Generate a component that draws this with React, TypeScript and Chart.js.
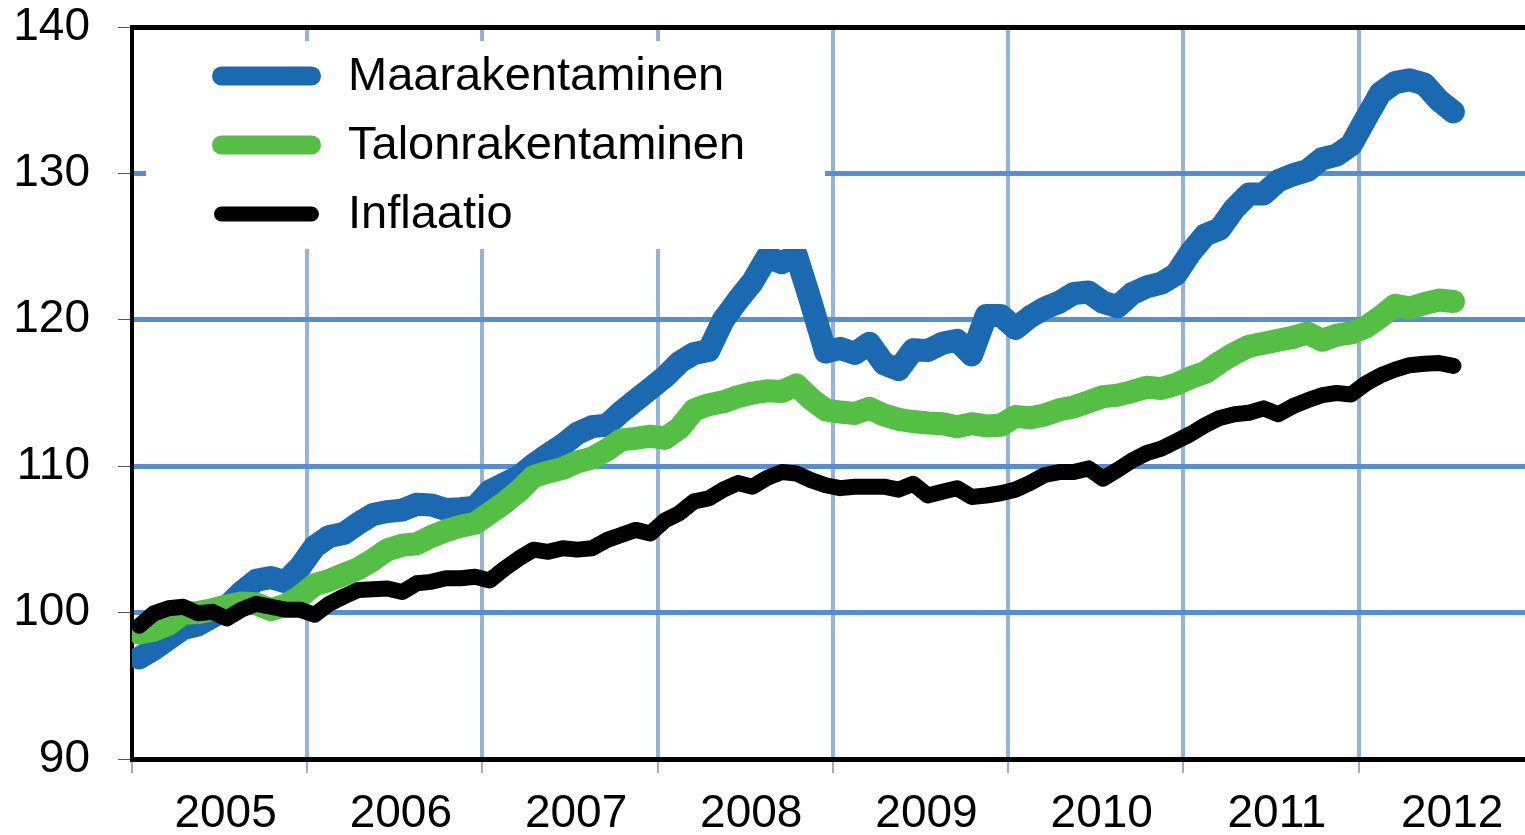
import React, { useEffect, useRef } from 'react';
import { Chart, registerables } from 'chart.js';

Chart.register(...registerables);

// ---- Data (monthly index, Jan 2005 .. Jul 2012) ----
const years = ['2005', '2006', '2007', '2008', '2009', '2010', '2011', '2012'];
const seriesNames = ['Maarakentaminen', 'Talonrakentaminen', 'Inflaatio'];
const yTicks = [90, 100, 110, 120, 130, 140];

const maarakentaminen = [
  96.9, 97.5, 98.2, 98.9, 99.15, 99.7, 100.4, 101.4, 102.2, 102.4, 102.1, 103.1,
  104.5, 105.2, 105.4, 106.1, 106.7, 106.9, 107.0, 107.4, 107.35, 107.05, 107.1, 107.2,
  108.3, 108.8, 109.3, 110.1, 110.8, 111.45, 112.25, 112.7, 112.8, 113.7, 114.5, 115.3,
  116.1, 117.1, 117.7, 117.9, 120.0, 121.35, 122.6, 124.3, 123.9, 124.4, 121.2, 117.8,
  118.05, 117.7, 118.4, 117.0, 116.6, 117.95, 117.9, 118.4, 118.6, 117.6, 120.3, 120.3,
  119.4, 120.2, 120.8, 121.2, 121.8, 121.9, 121.2, 120.9, 121.8, 122.25, 122.5, 123.1,
  124.6, 125.8, 126.2, 127.6, 128.6, 128.6, 129.5, 129.9, 130.2, 131.0, 131.25, 131.95,
  133.75, 135.5, 136.2, 136.4, 136.1, 135.0, 134.2,
];

const talonrakentaminen = [
  98.6, 98.8, 99.2, 99.95, 100.0, 100.2, 100.45, 100.65, 100.6, 100.2, 100.5, 101.1,
  101.9, 102.2, 102.6, 103.0, 103.6, 104.3, 104.6, 104.7, 105.2, 105.6, 105.9, 106.1,
  106.8, 107.5, 108.3, 109.3, 109.6, 109.85, 110.3, 110.55, 111.1, 111.8, 111.9, 112.05,
  111.9, 112.6, 113.85, 114.2, 114.4, 114.75, 115.0, 115.15, 115.1, 115.55, 114.6, 113.85,
  113.7, 113.6, 113.95, 113.5, 113.2, 113.05, 112.95, 112.9, 112.7, 112.9, 112.75, 112.8,
  113.4, 113.3, 113.5, 113.85, 114.05, 114.4, 114.75, 114.85, 115.1, 115.4, 115.3, 115.6,
  116.05, 116.4, 117.1, 117.7, 118.2, 118.4, 118.6, 118.8, 119.1, 118.6, 118.95, 119.1,
  119.5, 120.2, 121.0, 120.8, 121.1, 121.35, 121.25,
];

const inflaatio = [
  99.1, 99.95, 100.3, 100.4, 99.95, 100.05, 99.6, 100.2, 100.6, 100.4, 100.2, 100.2,
  99.85, 100.6, 101.1, 101.55, 101.6, 101.65, 101.4, 102.0, 102.1, 102.35, 102.35, 102.45,
  102.2, 103.0, 103.7, 104.3, 104.15, 104.4, 104.3, 104.4, 104.95, 105.3, 105.65, 105.4,
  106.3, 106.8, 107.6, 107.8, 108.4, 108.85, 108.6, 109.2, 109.6, 109.5, 109.05, 108.7,
  108.5, 108.6, 108.6, 108.6, 108.4, 108.8, 108.0, 108.25, 108.5, 107.9, 108.0, 108.15,
  108.4, 108.85, 109.4, 109.6, 109.6, 109.85, 109.15, 109.75, 110.4, 110.9, 111.2, 111.7,
  112.2, 112.8, 113.3, 113.55, 113.65, 113.95, 113.55, 114.1, 114.5, 114.85, 115.0, 114.9,
  115.65, 116.2, 116.6, 116.9, 117.0, 117.05, 116.85,
];

const FONT = 'Arial, "Liberation Sans", Helvetica, sans-serif';
const BLUE = '#1B69B0';
const GREEN = '#54BE45';
const BLACK = '#000000';
const HGRID = '#558ED5';
const VGRID = '#95B3D7';
const TICK = '#595959';

const legendWidths = [19, 19, 15];

const toPoints = (vals: number[]) => vals.map((v, i) => ({ x: i + 0.5, y: v }));

const boxLegend = {
  id: 'boxLegend',
  afterDatasetsDraw(chart: any) {
    const { ctx, chartArea } = chart;
    const left = chartArea.left + 14;
    const top = chartArea.top + 14;
    ctx.save();
    ctx.fillStyle = '#ffffff';
    ctx.fillRect(left, top, 679, 208);
    chart.data.datasets.forEach((ds: any, k: number) => {
      const cy = top + 35 + 69 * k;
      ctx.beginPath();
      ctx.lineCap = 'round';
      ctx.lineWidth = legendWidths[k];
      ctx.strokeStyle = ds.borderColor;
      ctx.moveTo(left + 75.5, cy);
      ctx.lineTo(left + 165.5, cy);
      ctx.stroke();
      ctx.fillStyle = '#000000';
      ctx.font = `47px ${FONT}`;
      ctx.textBaseline = 'middle';
      ctx.textAlign = 'left';
      ctx.fillText(ds.label, left + 202, cy + 1);
    });
    ctx.restore();
  },
};

export default function App() {
  const canvasRef = useRef<HTMLCanvasElement | null>(null);

  useEffect(() => {
    const canvas = canvasRef.current;
    if (!canvas) return;
    const chart = new Chart(canvas, {
      type: 'line',
      data: {
        datasets: [
          {
            label: seriesNames[0],
            data: toPoints(maarakentaminen),
            borderColor: BLUE,
            backgroundColor: BLUE,
            borderWidth: 23,
            order: 3,
          },
          {
            label: seriesNames[1],
            data: toPoints(talonrakentaminen),
            borderColor: GREEN,
            backgroundColor: GREEN,
            borderWidth: 23,
            order: 2,
          },
          {
            label: seriesNames[2],
            data: toPoints(inflaatio),
            borderColor: BLACK,
            backgroundColor: BLACK,
            borderWidth: 16,
            order: 1,
          },
        ],
      },
      options: {
        responsive: false,
        animation: false,
        devicePixelRatio: 1,
        layout: { padding: { top: 27, left: 0, right: 0, bottom: 0 } },
        elements: {
          point: { radius: 0, hoverRadius: 0 },
          line: {
            tension: 0,
            borderJoinStyle: 'round',
            borderCapStyle: 'round',
            fill: false,
          },
        },
        plugins: {
          legend: { display: false },
          tooltip: { enabled: false },
          title: { display: false },
        },
        scales: {
          x: {
            type: 'linear',
            min: 0,
            max: 95.4,
            afterBuildTicks: (scale: any) => {
              const t = [];
              for (let v = 0; v <= scale.max; v += 6) t.push({ value: v });
              scale.ticks = t;
            },
            afterFit: (scale: any) => {
              scale.height = 76;
              scale.paddingLeft = 0;
              scale.paddingRight = 0;
            },
            grid: {
              color: (c: any) => (c.tick && c.tick.value % 12 === 0 ? VGRID : 'rgba(0,0,0,0)'),
              lineWidth: 4,
              tickColor: (c: any) => (c.tick && c.tick.value % 12 === 0 ? TICK : 'rgba(0,0,0,0)'),
              tickWidth: 1,
              tickLength: 14,
              drawTicks: true,
            },
            border: { display: true, color: BLACK, width: 4 },
            ticks: {
              autoSkip: false,
              maxRotation: 0,
              minRotation: 0,
              padding: 14,
              labelOffset: 6,
              color: '#000000',
              font: { family: FONT, size: 46 },
              callback: (value: any) => {
                const v = Number(value);
                return v % 12 === 6 ? years[(v - 6) / 12] : '';
              },
            },
          },
          y: {
            type: 'linear',
            min: 90,
            max: 140,
            afterBuildTicks: (scale: any) => {
              scale.ticks = yTicks.map((v) => ({ value: v }));
            },
            afterFit: (scale: any) => {
              scale.width = 132;
              scale.paddingTop = 0;
              scale.paddingBottom = 0;
            },
            grid: {
              color: (c: any) =>
                c.tick && (c.tick.value === 140 || c.tick.value === 90) ? BLACK : HGRID,
              lineWidth: 5,
              tickColor: TICK,
              tickWidth: 1,
              tickLength: 14,
              drawTicks: true,
            },
            border: { display: true, color: BLACK, width: 4 },
            ticks: {
              padding: 28,
              color: '#000000',
              font: { family: FONT, size: 46 },
              callback: (value: any) => String(value),
            },
          },
        },
      } as any,
      plugins: [boxLegend],
    });
    return () => chart.destroy();
  }, []);

  return (
    <div
      style={{
        position: 'fixed',
        left: 0,
        top: 0,
        width: 1525,
        height: 835,
        background: '#ffffff',
        overflow: 'hidden',
      }}
    >
      <canvas ref={canvasRef} width={1525} height={835} style={{ width: 1525, height: 835, display: 'block' }} />
    </div>
  );
}
